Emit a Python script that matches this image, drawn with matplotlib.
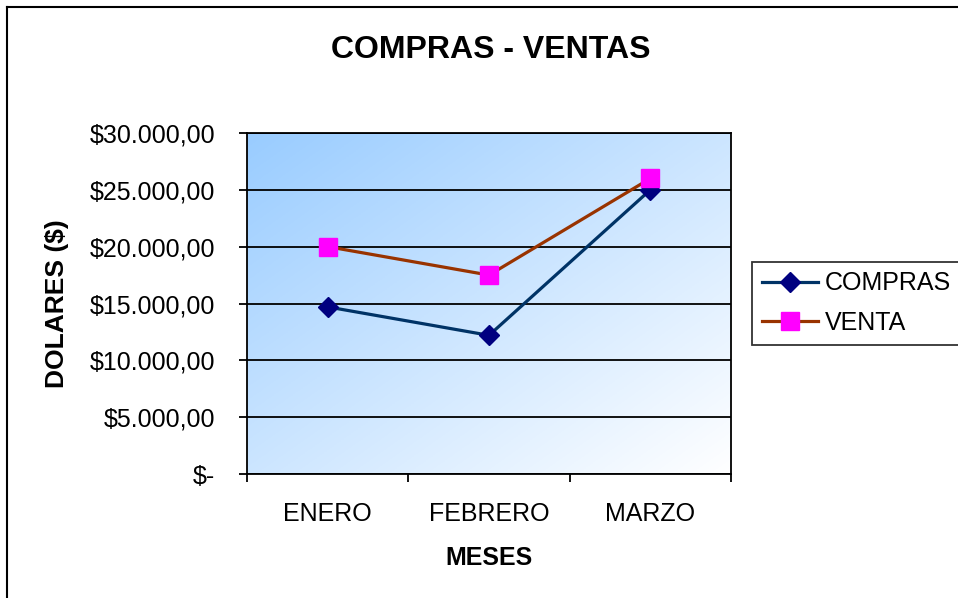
import numpy as np
import matplotlib
matplotlib.use("Agg")
import matplotlib.pyplot as plt
from matplotlib.lines import Line2D

plt.rcParams['font.family'] = ['Liberation Sans', 'DejaVu Sans']

# datos
meses = ["ENERO", "FEBRERO", "MARZO"]
compras = [14700, 12200, 25000]
venta = [20000, 17500, 26000]
y_ticks = [0, 5000, 10000, 15000, 20000, 25000, 30000]
y_labels = ["$-", "$5.000,00", "$10.000,00", "$15.000,00", "$20.000,00", "$25.000,00", "$30.000,00"]

W, H = 958, 598
fig = plt.figure(figsize=(W / 100, H / 100), dpi=100)
ax = fig.add_axes([247 / W, 1 - 474 / H, (731 - 247) / W, (474 - 133) / H])

# fondo degradado diagonal
n = 200
u = np.linspace(0, 1, n)
v = np.linspace(0, 1, n)
U, V = np.meshgrid(u, v)  # V=0 arriba
t = np.clip((U + V) / 2, 0, 1)
c0 = np.array([153, 204, 255]) / 255
c1 = np.array([255, 255, 255]) / 255
img = c0[None, None, :] * (1 - t[..., None]) + c1[None, None, :] * t[..., None]
ax.imshow(img, extent=[-0.5, 2.5, 0, 30000], aspect='auto', origin='upper', zorder=0)

x = np.arange(len(meses))
ax.plot(x, compras, color='#003366', lw=2.3, marker='D', ms=10.5,
        mfc='#000080', mec='#000080', zorder=3, label='COMPRAS')
ax.plot(x, venta, color='#993300', lw=2.3, marker='s', ms=13.5,
        mfc='#FF00FF', mec='#FF00FF', zorder=4, label='VENTA')

ax.set_xlim(-0.5, 2.5)
ax.set_ylim(0, 30000)
ax.set_yticks(y_ticks)
ax.set_yticklabels(y_labels, fontsize=18)
ax.set_xticks([-0.5, 0.5, 1.5, 2.5])
ax.set_xticklabels([])
ax.set_xticks(x, minor=True)
ax.set_xticklabels(meses, minor=True, fontsize=18)
ax.tick_params(axis='x', which='minor', length=0, pad=20)
ax.tick_params(axis='x', which='major', length=6, width=1.3, direction='out')
ax.tick_params(axis='y', length=6, width=1.3, direction='out', pad=17)
ax.yaxis.grid(True, color='black', lw=1.3, zorder=1)
ax.set_axisbelow(False)
for s in ax.spines.values():
    s.set_color('black')
    s.set_linewidth(1.3)

ax.set_xlabel("MESES", fontsize=18, fontweight='bold')
ax.xaxis.set_label_coords(0.5, (474 - 558) / (474 - 133), transform=ax.transAxes)
ax.xaxis.label.set_va('center')
ax.set_ylabel("DOLARES ($)", fontsize=19, fontweight='bold')
ax.yaxis.set_label_coords((57 - 247) / (731 - 247), 0.5, transform=ax.transAxes)
ax.yaxis.label.set_va('center')

fig.text(491 / W, 1 - 50 / H, "COMPRAS - VENTAS", fontsize=23, fontweight='bold',
         ha='center', va='center')

leg = fig.legend(loc='center left', bbox_to_anchor=(752 / W, 1 - 303 / H),
                 fontsize=18, frameon=True, fancybox=False, borderpad=0.4,
                 handlelength=2.25, handletextpad=0.28, labelspacing=0.6,
                 borderaxespad=0)
leg.get_frame().set_edgecolor('black')
leg.get_frame().set_linewidth(1.3)

# marco exterior del gráfico
fig.add_artist(Line2D([7 / W, 7 / W], [0, 1 - 7 / H], color='black', lw=1.5))
fig.add_artist(Line2D([7 / W, 1], [1 - 7 / H, 1 - 7 / H], color='black', lw=1.5))

fig.savefig("out.png", dpi=100)
